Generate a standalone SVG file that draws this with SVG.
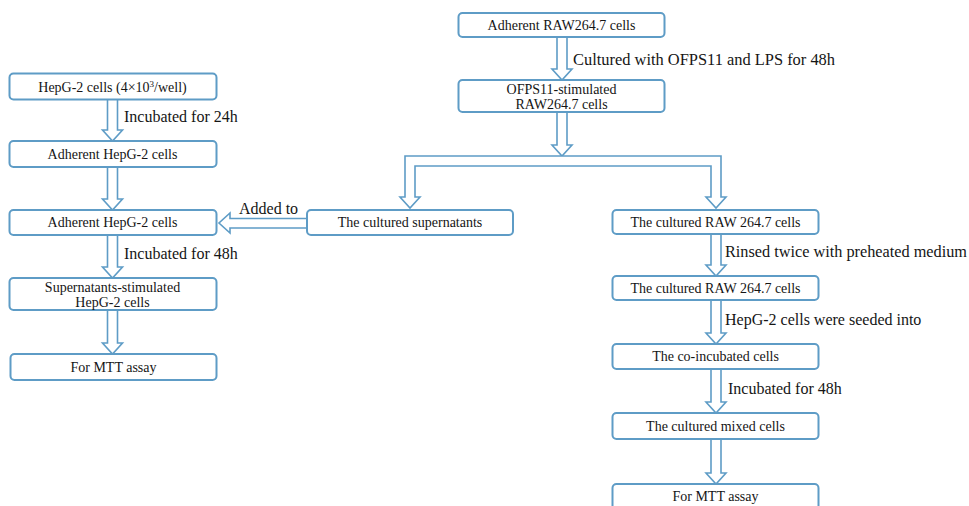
<svg xmlns="http://www.w3.org/2000/svg" width="969" height="506" viewBox="0 0 969 506">
<style>
.box{fill:#fff;stroke:#5e9cc6;stroke-width:2}
.arr{fill:#fff;stroke:#5e9cc6;stroke-width:1.6;stroke-linejoin:miter}
.t{font-family:'Liberation Serif','Times New Roman',Tinos,'DejaVu Serif',serif;font-size:14px;fill:#151515;text-anchor:middle}
.l{font-family:'Liberation Serif','Times New Roman',Tinos,'DejaVu Serif',serif;font-size:16px;fill:#151515}
</style>
<rect width="969" height="506" fill="#fff"/>
<g id="connectors">
<polygon class="arr" points="107.5,99 117.5,99 117.5,130 122.5,130 112.5,141 102.5,130 107.5,130"/>
<polygon class="arr" points="107.5,167 117.5,167 117.5,199 122.5,199 112.5,210 102.5,199 107.5,199"/>
<polygon class="arr" points="107.5,235 117.5,235 117.5,267 122.5,267 112.5,278 102.5,267 107.5,267"/>
<polygon class="arr" points="107.5,310 117.5,310 117.5,343 122.5,343 112.5,354 102.5,343 107.5,343"/>
<polygon class="arr" points="557,37 567,37 567,69 572,69 562,80 552,69 557,69"/>
<polygon class="arr" points="557,112 567,112 567,145 572,145 562,156 552,145 557,145"/>
<path class="arr" d="M405,156 H721 V197 H726 L716,208 L706,197 H711 V166 H415 V197 H420 L410,208 L400,197 H405 Z"/>
<polygon class="arr" points="307,218.5 230,218.5 230,213 219,223 230,233 230,228 307,228"/>
<polygon class="arr" points="711,234 721,234 721,265 726,265 716,276 706,265 711,265"/>
<polygon class="arr" points="711,300 721,300 721,333 726,333 716,344 706,333 711,333"/>
<polygon class="arr" points="711,369 721,369 721,402 726,402 716,413 706,402 711,402"/>
<polygon class="arr" points="711,439 721,439 721,473 726,473 716,484 706,473 711,473"/>
<text class="l" x="124" y="122">Incubated for 24h</text>
<text class="l" x="124" y="259">Incubated for 48h</text>
<text class="l" x="239" y="214">Added to</text>
<text class="l" x="573" y="65" textLength="262" lengthAdjust="spacingAndGlyphs">Cultured with OFPS11 and LPS for 48h</text>
<text class="l" x="725" y="257" textLength="242" lengthAdjust="spacingAndGlyphs">Rinsed twice with preheated medium</text>
<text class="l" x="725" y="325">HepG-2 cells were seeded into</text>
<text class="l" x="728" y="394">Incubated for 48h</text>
</g>
<g id="n1"><rect class="box" x="9.5" y="73.5" width="207" height="26" rx="4"/><text class="t" x="112.5" y="92">HepG-2 cells (4×10<tspan font-size="9" dy="-5">3</tspan><tspan dy="5">/well)</tspan></text></g>
<g id="n2"><rect class="box" x="9.5" y="141" width="207" height="26" rx="4"/><text class="t" x="112.5" y="159">Adherent HepG-2 cells</text></g>
<g id="n3"><rect class="box" x="9.5" y="210" width="207" height="25" rx="4"/><text class="t" x="112.5" y="227">Adherent HepG-2 cells</text></g>
<g id="n4"><rect class="box" x="9.5" y="278" width="207" height="32" rx="4"/><text class="t" x="112.5" y="292">Supernatants-stimulated</text><text class="t" x="112.5" y="307">HepG-2 cells</text></g>
<g id="n5"><rect class="box" x="10.5" y="354" width="206" height="26" rx="4"/><text class="t" x="113.5" y="372">For MTT assay</text></g>
<g id="n6"><rect class="box" x="458.5" y="13" width="206" height="24" rx="4"/><text class="t" x="561.5" y="30">Adherent RAW264.7 cells</text></g>
<g id="n7"><rect class="box" x="458.5" y="80" width="206" height="32" rx="4"/><text class="t" x="561.5" y="94">OFPS11-stimulated</text><text class="t" x="561.5" y="109">RAW264.7 cells</text></g>
<g id="n8"><rect class="box" x="307" y="210" width="206" height="25" rx="4"/><text class="t" x="410" y="227">The cultured supernatants</text></g>
<g id="n9"><rect class="box" x="612.5" y="210" width="206" height="24" rx="4"/><text class="t" x="715.5" y="227">The cultured RAW 264.7 cells</text></g>
<g id="n10"><rect class="box" x="612.5" y="276" width="206" height="24" rx="4"/><text class="t" x="715.5" y="293">The cultured RAW 264.7 cells</text></g>
<g id="n11"><rect class="box" x="612.5" y="344" width="206" height="25" rx="4"/><text class="t" x="715.5" y="361">The co-incubated cells</text></g>
<g id="n12"><rect class="box" x="612.5" y="413" width="206" height="26" rx="4"/><text class="t" x="715.5" y="431">The cultured mixed cells</text></g>
<g id="n13"><rect class="box" x="612.5" y="484" width="206" height="28" rx="4"/><text class="t" x="715.5" y="501">For MTT assay</text></g>
</svg>
